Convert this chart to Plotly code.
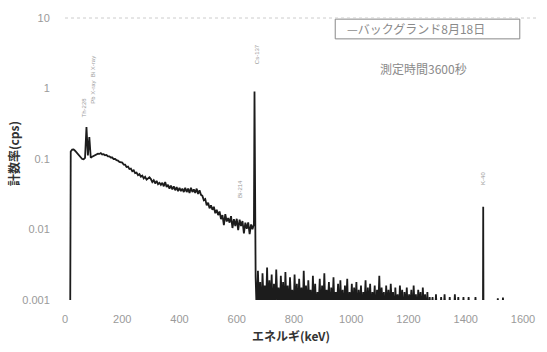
import plotly.graph_objects as go

# Background gamma spectrum, 3600 s measurement (count rate in cps vs energy in keV)

# Low-energy continuum, 5 keV bins (starts from zero counts below ~20 keV)
cont_kev = [18] + list(range(20, 665, 5))
cont_cps = [
    0.0004,
    0.128, 0.136, 0.137, 0.131, 0.124, 0.116, 0.109, 0.103, 0.100, 0.099,
    0.104, 0.285, 0.112, 0.205, 0.104, 0.108, 0.111, 0.114, 0.117, 0.119,
    0.118, 0.121, 0.116, 0.117, 0.113, 0.114, 0.109, 0.109, 0.105, 0.105,
    0.100, 0.100, 0.096, 0.095, 0.091, 0.091, 0.089, 0.083, 0.083, 0.077,
    0.078, 0.072, 0.073, 0.067, 0.069, 0.063, 0.064, 0.059, 0.061, 0.056,
    0.058, 0.053, 0.056, 0.051, 0.054, 0.055, 0.052, 0.047, 0.050, 0.045,
    0.049, 0.044, 0.046, 0.043, 0.046, 0.041, 0.047, 0.040, 0.043, 0.038,
    0.042, 0.037, 0.041, 0.036, 0.040, 0.035, 0.039, 0.035, 0.038, 0.034,
    0.039, 0.034, 0.038, 0.033, 0.039, 0.034, 0.037, 0.033, 0.038, 0.032,
    0.036, 0.031, 0.030, 0.026, 0.027, 0.022, 0.024, 0.020, 0.022, 0.019,
    0.021, 0.017, 0.019, 0.016, 0.018, 0.014, 0.016, 0.0115, 0.0165, 0.013,
    0.0145, 0.0125, 0.0155, 0.0105, 0.014, 0.0112, 0.0142, 0.0098, 0.0138, 0.0112,
    0.0132, 0.0088, 0.0125, 0.0102, 0.0126, 0.0086, 0.0118, 0.0101, 0.012,
]

# Cs-137 photopeak
cs_kev = [662]
cs_cps = [0.91]

# High-energy region, 4 keV bins (sparse counts, many bins below 0.001 cps)
hi_kev = list(range(666, 1282, 4))
hi_cps = [
    0.0021, 0.0006, 0.0026, 0.0008, 0.0018, 0.0005, 0.0024, 0.0009, 0.0016, 0.0007,
    0.0029, 0.0006, 0.0019, 0.0008, 0.0023, 0.0005, 0.0017, 0.0007, 0.0027, 0.0009,
    0.0015, 0.0006, 0.0022, 0.0008, 0.0018, 0.0005, 0.0025, 0.0007, 0.0016, 0.0006,
    0.0021, 0.0009, 0.0014, 0.0005, 0.0023, 0.0007, 0.0017, 0.0006, 0.0020, 0.0008,
    0.0015, 0.0005, 0.0026, 0.0007, 0.0016, 0.0006, 0.0019, 0.0008, 0.0014, 0.0005,
    0.0022, 0.0007, 0.0017, 0.0006, 0.0013, 0.0008, 0.0020, 0.0005, 0.0016, 0.0007,
    0.0024, 0.0006, 0.0014, 0.0008, 0.0018, 0.0005, 0.0015, 0.0007, 0.0021, 0.0006,
    0.0013, 0.0008, 0.0017, 0.0005, 0.0019, 0.0007, 0.0014, 0.0006, 0.0016, 0.0008,
    0.0020, 0.0005, 0.0013, 0.0007, 0.0017, 0.0006, 0.0015, 0.0008, 0.0018, 0.0005,
    0.0014, 0.0007, 0.0016, 0.0006, 0.0013, 0.0008, 0.0019, 0.0005, 0.0015, 0.0007,
    0.0017, 0.0006, 0.0013, 0.0008, 0.0016, 0.0005, 0.0014, 0.0007, 0.0022, 0.0006,
    0.0015, 0.0008, 0.0013, 0.0005, 0.0016, 0.0007, 0.0014, 0.0006, 0.0017, 0.0008,
    0.0013, 0.0005, 0.0015, 0.0007, 0.0012, 0.0006, 0.0016, 0.0008, 0.0014, 0.0005,
    0.0013, 0.0007, 0.0015, 0.0006, 0.0012, 0.0008, 0.0014, 0.0005, 0.0016, 0.0007,
    0.0012, 0.0006, 0.0014, 0.0008, 0.0013, 0.0005, 0.0015, 0.0007, 0.0012, 0.0006,
    0.0013, 0.0005, 0.0011, 0.0006,
]

# Tail up to K-40 and beyond (6 keV bins, then the K-40 line)
tail_kev = list(range(1284, 1458, 6)) + [1460, 1461, 1462, 1506, 1512, 1518, 1524, 1530, 1536]
tail_cps = [
    0.0011, 0.0004, 0.0012, 0.0004, 0.0004, 0.0011, 0.0004, 0.0012, 0.0004, 0.0004,
    0.0011, 0.0004, 0.0004, 0.0012, 0.0004, 0.0011, 0.0004, 0.0004, 0.0011, 0.0004,
    0.0004, 0.0011, 0.0004, 0.0004, 0.0004, 0.0011, 0.0004, 0.0004, 0.0004,
    0.0004, 0.021, 0.0004, 0.0004, 0.00106, 0.0004, 0.0004, 0.00108, 0.0004,
]

energy = cont_kev + cs_kev + hi_kev + tail_kev
rate = cont_cps + cs_cps + hi_cps + tail_cps

# Peak identification labels: (text, energy keV, log10 cps position)
peak_labels = [
    ("Pb X-ray  Bi X-ray", 97, 0.12),
    ("Th-228", 66, -0.27),
    ("Cs-137", 669, 0.48),
    ("Bi-214", 609, -1.42),
    ("K-40", 1461, -1.28),
]

x_ticks = [0, 200, 400, 600, 800, 1000, 1200, 1400, 1600]
y_ticks = [0.001, 0.01, 0.1, 1, 10]
y_tick_text = ["0.001", "0.01", "0.1", "1", "10"]

JP = "Noto Sans CJK JP"
SANS = "Liberation Sans"

fig = go.Figure()
fig.add_trace(go.Scatter(
    x=energy, y=rate, mode="lines",
    line=dict(color="#1c1c1c", width=1.8),
    name="バックグランド8月18日",
    showlegend=False,
))

for text, kev, ly in peak_labels:
    fig.add_annotation(
        x=kev, y=ly, xref="x", yref="y", text=text, showarrow=False,
        textangle=-90, font=dict(family=SANS, size=6, color="#9a9a9a"),
    )

# Legend box and measurement note (paper coords over the 465x285 plot area)
fig.add_shape(type="rect", xref="paper", yref="paper",
              x0=0.590, x1=0.993, y0=0.926, y1=0.996,
              line=dict(color="#888888", width=1), fillcolor="white")
fig.add_annotation(x=0.612, y=0.961, xref="paper", yref="paper",
                   xanchor="left", yanchor="middle",
                   text="—バックグランド8月18日", showarrow=False,
                   font=dict(family=JP, size=12, color="#8a8a8a"))
fig.add_annotation(x=0.684, y=0.821, xref="paper", yref="paper",
                   xanchor="left", yanchor="middle",
                   text="測定時間3600秒", showarrow=False,
                   font=dict(family=JP, size=12, color="#8a8a8a"))

# Faint dotted line along the top of the plot
fig.add_shape(type="line", xref="paper", yref="paper", x0=0, x1=1.03, y0=1, y1=1,
              line=dict(color="#cccccc", width=1, dash="dot"))

# Axis titles
fig.add_annotation(x=-0.112, y=0.52, xref="paper", yref="paper",
                   xanchor="center", yanchor="middle",
                   text="<b>計数率(cps)</b>", showarrow=False, textangle=-90,
                   font=dict(family=JP, size=12, color="#333333"))
fig.add_annotation(x=0.404, y=-0.09, xref="paper", yref="paper",
                   xanchor="left", yanchor="top",
                   text="<b>エネルギ(keV)</b>", showarrow=False,
                   font=dict(family=JP, size=12, color="#333333"))

fig.update_xaxes(
    range=[0, 1600], tickvals=x_ticks, showgrid=False, zeroline=False,
    showline=False, ticks="outside", ticklen=9, tickcolor="white",
    tickfont=dict(family=SANS, size=11, color="#9a9a9a"),
)
fig.update_yaxes(
    type="log", range=[-3, 1], tickvals=y_ticks, ticktext=y_tick_text,
    showgrid=False, zeroline=False, showline=False,
    ticks="outside", ticklen=12, tickcolor="white",
    tickfont=dict(family=SANS, size=11, color="#9a9a9a"),
)
fig.update_layout(
    width=547, height=352,
    margin=dict(l=65, r=17, t=15, b=52),
    paper_bgcolor="white", plot_bgcolor="white",
    font=dict(family=JP),
)

fig.write_html("out.html")
